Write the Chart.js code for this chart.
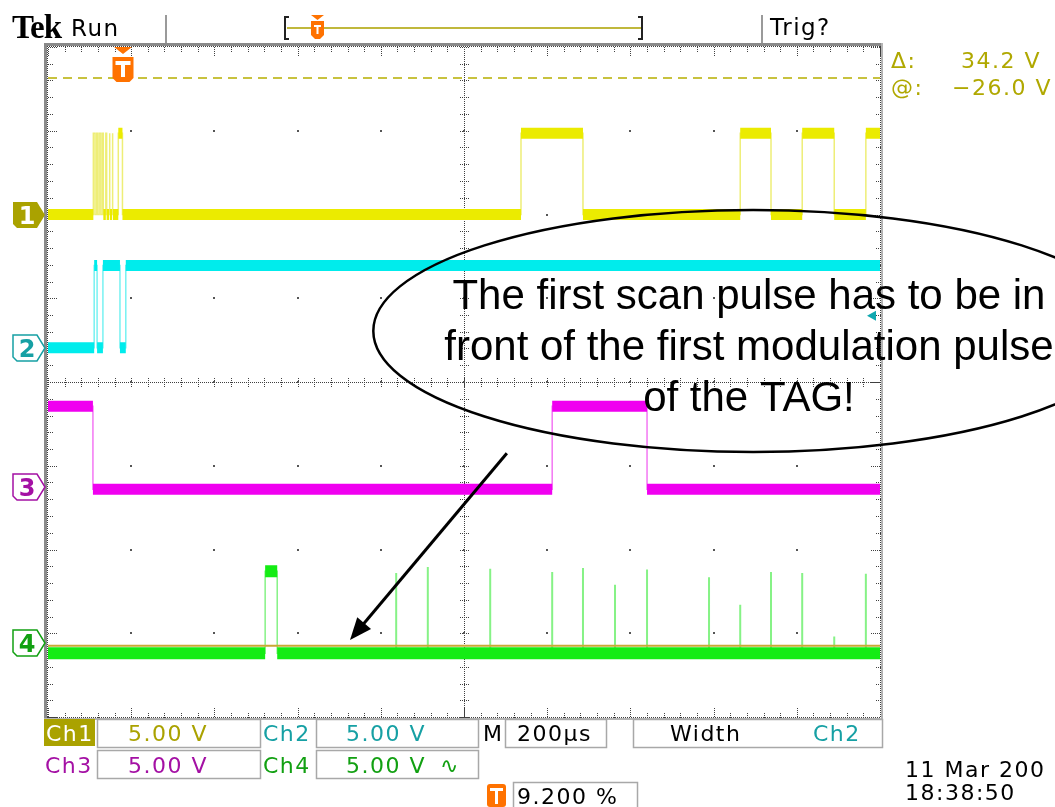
<!DOCTYPE html>
<html>
<head>
<meta charset="utf-8">
<title>Tek scope capture</title>
<script src="https://cdn.jsdelivr.net/npm/chart.js@4.4.1/dist/chart.umd.min.js"></script>
<style>
  html, body { margin: 0; padding: 0; background: #ffffff; }
  canvas { display: block; }
</style>
</head>
<body>
<canvas id="scope" width="1055" height="807"></canvas>
<script>
// x: microseconds across the screen (200 us/div, 10 div)
// y: screen divisions counted up from the bottom graticule line (8 div)
const sweepEnd = 2000;

// each trace: start state (0 low / 1 high), toggle times, [low, high] levels
const ch1Levels = [6.0, 6.97];
const ch1Start = 0;
const ch1Edges = [109, 113, 117, 119, 123, 127, 131, 133, 139, 141, 147, 149, 154, 156, 169, 179, 1137, 1286, 1664, 1738, 1813, 1890, 1966];

const ch2Levels = [4.41, 5.39];
const ch2Start = 0;
const ch2Edges = [111, 118, 132, 173, 187];

const ch3Levels = [2.72, 3.71];
const ch3Start = 1;
const ch3Edges = [108, 1212, 1440];

const ch4Levels = [0.76, 1.74];
const ch4Start = 0;
const ch4Edges = [522, 551];
const ch4SpikeTimes = [837, 913, 1063, 1212, 1286, 1363, 1440, 1589, 1664, 1738, 1813, 1890, 1966];
const ch4SpikeLevels = [1.72, 1.79, 1.77, 1.73, 1.78, 1.58, 1.76, 1.67, 1.34, 1.73, 1.72, 0.96, 1.71];

// ground markers, cursors, trigger
const groundLevels = [6.0, 4.40, 2.75, 0.88];
const cursorLevels = [7.63, 0.85];
const trigTime = 180;
const trigLevel = 4.79;

// readouts
const chLabels = ['Ch1', 'Ch2', 'Ch3', 'Ch4'];
const chVolts = ['5.00 V', '5.00 V', '5.00 V', '5.00 V'];
const cursorText = ['34.2 V', '\u221226.0 V'];
const timebase = '200\u00b5s';
const trigPos = '9.200 %';
const stamp = ['11 Mar 200', '18:38:50'];
const callout = ['The first scan pulse has to be in', 'front of the first modulation pulse', 'of the TAG!'];

const colors = {
  ch1: '#ebeb00', ch1Thin: '#eeee77',
  ch2: '#00ecec', ch2Thin: '#77f2f2',
  ch3: '#f000f0', ch3Thin: '#f377f3',
  ch4: '#14ec14', ch4Thin: '#86f286',
  ch1Text: '#aaa200', ch2Text: '#16a0a4', ch3Text: '#a410a4', ch4Text: '#12a012',
  orange: '#ff7200'
};

function stepTrace(start, edges, lv) {
  let s = start;
  const pts = [{x: 0, y: lv[s]}];
  edges.forEach(t => {
    pts.push({x: t, y: lv[s]});
    s = 1 - s;
    pts.push({x: t, y: lv[s]});
  });
  pts.push({x: sweepEnd, y: lv[s]});
  return pts;
}

// the fuzzy noise band on each settled level (skipped for very short glitches)
function levelBands(start, edges, lv) {
  let s = start, t0 = 0;
  const pts = [];
  edges.concat([sweepEnd]).forEach(t => {
    if (t - t0 > 4) pts.push({x: t0, y: lv[s]}, {x: t, y: lv[s]}, {x: t, y: null});
    s = 1 - s;
    t0 = t;
  });
  return pts;
}

function spikeLines(times, levels, base) {
  const pts = [];
  times.forEach((t, i) => pts.push({x: t, y: base}, {x: t, y: levels[i]}, {x: t, y: null}));
  return pts;
}

const flat = v => [{x: 0, y: v}, {x: sweepEnd, y: v}];

const common = {pointRadius: 0, tension: 0, fill: false, clip: 0, spanGaps: false};

const datasets = [
  {...common, label: 'cursor @', data: flat(cursorLevels[1]), borderColor: '#c9a934', borderWidth: 2, order: 0},
  {...common, label: 'cursor', data: flat(cursorLevels[0]), borderColor: '#c8c23e', borderWidth: 2, borderDash: [9, 6], order: 1},
  {...common, label: 'Ch1', data: levelBands(ch1Start, ch1Edges, ch1Levels), borderColor: colors.ch1, borderWidth: 11, order: 2},
  {...common, label: 'Ch2', data: levelBands(ch2Start, ch2Edges, ch2Levels), borderColor: colors.ch2, borderWidth: 11, order: 3},
  {...common, label: 'Ch3', data: levelBands(ch3Start, ch3Edges, ch3Levels), borderColor: colors.ch3, borderWidth: 11, order: 4},
  {...common, label: 'Ch4', data: levelBands(ch4Start, ch4Edges, ch4Levels), borderColor: colors.ch4, borderWidth: 12, order: 5},
  {...common, label: 'Ch1 edges', data: stepTrace(ch1Start, ch1Edges, ch1Levels), borderColor: colors.ch1Thin, borderWidth: 1.5, order: 6},
  {...common, label: 'Ch2 edges', data: stepTrace(ch2Start, ch2Edges, ch2Levels), borderColor: colors.ch2Thin, borderWidth: 1.5, order: 7},
  {...common, label: 'Ch3 edges', data: stepTrace(ch3Start, ch3Edges, ch3Levels), borderColor: colors.ch3Thin, borderWidth: 1.5, order: 8},
  {...common, label: 'Ch4 edges', data: stepTrace(ch4Start, ch4Edges, ch4Levels), borderColor: colors.ch4Thin, borderWidth: 1.5, order: 9},
  {...common, label: 'Ch4 spikes', data: spikeLines(ch4SpikeTimes, ch4SpikeLevels, ch4Levels[0]), borderColor: colors.ch4Thin, borderWidth: 2, order: 9}
];

function dotsV(ctx, px, y0, y1) { for (let p = y0; p <= y1; p += 2) ctx.fillRect(px, p, 1, 1); }
function dotsH(ctx, py, x0, x1) { for (let p = x0; p <= x1; p += 2) ctx.fillRect(p, py, 1, 1); }

const graticule = {
  id: 'graticule',
  beforeDatasetsDraw(chart) {
    const {ctx, chartArea: a, scales: {x, y}} = chart;
    const L = Math.round(a.left), R = Math.round(a.right), T = Math.round(a.top), B = Math.round(a.bottom);
    ctx.save();
    // frame
    ctx.fillStyle = '#8a8a8a';
    ctx.fillRect(L - 4, T - 4, R - L + 7, 3);
    ctx.fillRect(L - 4, T - 4, 3, B - T + 7);
    ctx.fillStyle = '#b4b4b4';
    ctx.fillRect(R + 1, T - 4, 2, B - T + 6);
    ctx.fillRect(L - 4, B + 1, R - L + 7, 2);
    ctx.fillStyle = '#404040';
    dotsH(ctx, T - 1, L - 1, R);
    dotsH(ctx, B, L - 1, R);
    dotsV(ctx, L - 1, T - 1, B);
    dotsV(ctx, R, T - 1, B);

    const cx = Math.round(x.getPixelForValue(sweepEnd / 2));
    const cy = Math.round(y.getPixelForValue(4));
    // center cross
    dotsV(ctx, cx, T, B);
    dotsH(ctx, cy, L, R);
    // ticks every fifth of a division
    for (let k = 0; k <= 50; k++) {
      const px = Math.round(x.getPixelForValue(k * sweepEnd / 50));
      const len = k % 5 === 0 ? 9 : 4;
      dotsV(ctx, px, T, T + len);
      dotsV(ctx, px, B - len, B);
      dotsV(ctx, px, cy - 4, cy + 4);
    }
    for (let k = 0; k <= 40; k++) {
      const py = Math.round(y.getPixelForValue(k * 0.2));
      const len = k % 5 === 0 ? 9 : 4;
      dotsH(ctx, py, L, L + len);
      dotsH(ctx, py, R - len, R);
      dotsH(ctx, py, cx - 4, cx + 4);
    }
    // dots on every division crossing
    ctx.fillStyle = '#555';
    for (let i = 1; i < 10; i++) {
      for (let j = 1; j < 8; j++) {
        ctx.fillRect(Math.round(x.getPixelForValue(i * 200)) - 1, Math.round(y.getPixelForValue(j)) - 1, 2, 2);
      }
    }
    ctx.restore();
  }
};

function tMarker(ctx, cx, top, w, h) {
  ctx.fillStyle = colors.orange;
  ctx.beginPath();
  ctx.moveTo(cx - w / 2, top);
  ctx.lineTo(cx + w / 2, top);
  ctx.lineTo(cx + w / 2, top + h - 4);
  ctx.lineTo(cx + w / 2 - 4, top + h);
  ctx.lineTo(cx - w / 2 + 4, top + h);
  ctx.lineTo(cx - w / 2, top + h - 4);
  ctx.closePath();
  ctx.fill();
  ctx.fillStyle = '#fff';
  const bar = Math.max(2, Math.round(w * 0.18));
  ctx.fillRect(cx - w / 2 + 3, top + 4, w - 6, bar);
  ctx.fillRect(cx - bar / 2, top + 4, bar, h - 9);
}

function groundMarker(ctx, n, cy, color, filled) {
  ctx.beginPath();
  ctx.moveTo(13, cy - 13);
  ctx.lineTo(37, cy - 13);
  ctx.lineTo(45, cy);
  ctx.lineTo(37, cy + 13);
  ctx.lineTo(17, cy + 13);
  ctx.lineTo(13, cy + 9);
  ctx.closePath();
  if (filled) {
    ctx.fillStyle = color;
    ctx.fill();
  } else {
    ctx.fillStyle = '#fff';
    ctx.fill();
    ctx.strokeStyle = color;
    ctx.lineWidth = 1.5;
    ctx.stroke();
  }
  ctx.fillStyle = filled ? '#fff' : color;
  ctx.font = 'bold 24px "DejaVu Sans"';
  ctx.textAlign = 'center';
  ctx.fillText(String(n), 27, cy + 9);
  ctx.textAlign = 'left';
}

const overlays = {
  id: 'overlays',
  afterDatasetsDraw(chart) {
    const {ctx, chartArea: a, scales: {x, y}} = chart;
    ctx.save();
    // trigger position marker
    const tx = Math.round(x.getPixelForValue(trigTime));
    ctx.fillStyle = colors.orange;
    ctx.beginPath();
    ctx.moveTo(tx - 9, a.top);
    ctx.lineTo(tx + 9, a.top);
    ctx.lineTo(tx, a.top + 7);
    ctx.closePath();
    ctx.fill();
    tMarker(ctx, tx, a.top + 10, 21, 25);
    // trigger level arrow on right edge
    const ty = y.getPixelForValue(trigLevel);
    ctx.fillStyle = '#10a8b0';
    ctx.beginPath();
    ctx.moveTo(a.right - 13, ty);
    ctx.lineTo(a.right - 4, ty - 5);
    ctx.lineTo(a.right - 4, ty + 5);
    ctx.closePath();
    ctx.fill();
    // ground markers
    const gc = [colors.ch1Text, colors.ch2Text, colors.ch3Text, colors.ch4Text];
    groundLevels.forEach((g, i) => groundMarker(ctx, i + 1, Math.round(y.getPixelForValue(g)), gc[i], i === 0));
    ctx.restore();
  }
};

const fnt = '22px "DejaVu Sans"';
function txt(ctx, s, px, py, color, font) {
  ctx.font = font || fnt;
  ctx.fillStyle = color;
  ctx.fillText(s, px, py);
}
function box(ctx, x0, y0, x1, y1) {
  ctx.strokeStyle = '#a8a8a8';
  ctx.lineWidth = 1.5;
  ctx.strokeRect(x0 + 0.5, y0 + 0.5, x1 - x0, y1 - y0);
}

const statusBar = {
  id: 'statusBar',
  afterDraw(chart) {
    const {ctx, scales: {x, y}} = chart;
    ctx.save();
    ctx.textBaseline = 'alphabetic';

    // callout ellipse, text and arrow
    const ex = x.getPixelForValue(1695), ey = y.getPixelForValue(4.61);
    const rx = x.getPixelForValue(1695 + 913) - ex, ry = ey - y.getPixelForValue(4.61 + 1.445);
    ctx.strokeStyle = '#000';
    ctx.lineWidth = 2.5;
    ctx.beginPath();
    ctx.ellipse(ex, ey, rx, ry, 0, 0, Math.PI * 2);
    ctx.stroke();
    ctx.letterSpacing = '0px';
    ctx.textAlign = 'center';
    const tcx = x.getPixelForValue(1685);
    [4.87, 4.26, 3.65].forEach((v, i) => txt(ctx, callout[i], tcx, y.getPixelForValue(v), '#000', '42px "Liberation Sans"'));
    ctx.textAlign = 'left';
    const ax0 = x.getPixelForValue(1103), ay0 = y.getPixelForValue(3.15);
    const ax1 = x.getPixelForValue(726), ay1 = y.getPixelForValue(0.92);
    const ang = Math.atan2(ay1 - ay0, ax1 - ax0);
    ctx.lineWidth = 3;
    ctx.beginPath();
    ctx.moveTo(ax0, ay0);
    ctx.lineTo(ax1 - 16 * Math.cos(ang), ay1 - 16 * Math.sin(ang));
    ctx.stroke();
    ctx.fillStyle = '#000';
    ctx.beginPath();
    ctx.moveTo(ax1, ay1);
    ctx.lineTo(ax1 - 22 * Math.cos(ang) + 9 * Math.sin(ang), ay1 - 22 * Math.sin(ang) - 9 * Math.cos(ang));
    ctx.lineTo(ax1 - 22 * Math.cos(ang) - 9 * Math.sin(ang), ay1 - 22 * Math.sin(ang) + 9 * Math.cos(ang));
    ctx.closePath();
    ctx.fill();

    // top line
    ctx.letterSpacing = '-1px';
    txt(ctx, 'Tek', 12, 38, '#000', 'bold 33px "Liberation Serif"');
    ctx.letterSpacing = '1.5px';
    txt(ctx, 'Run', 71, 36, '#000', '23px "DejaVu Sans"');
    txt(ctx, 'Trig?', 770, 35, '#000', '23px "DejaVu Sans"');
    ctx.fillStyle = '#9a9a9a';
    ctx.fillRect(165, 15, 2, 28);
    ctx.fillRect(761, 15, 2, 28);
    // record bracket
    ctx.fillStyle = '#c0b83c';
    ctx.fillRect(287, 27, 354, 2);
    ctx.fillStyle = '#222';
    ctx.fillRect(284, 16, 2, 24);
    ctx.fillRect(284, 16, 5, 2);
    ctx.fillRect(284, 38, 5, 2);
    ctx.fillRect(641, 16, 2, 24);
    ctx.fillRect(638, 16, 5, 2);
    ctx.fillRect(638, 38, 5, 2);
    ctx.fillStyle = colors.orange;
    ctx.beginPath();
    ctx.moveTo(311, 15);
    ctx.lineTo(324, 15);
    ctx.lineTo(317.5, 20);
    ctx.closePath();
    ctx.fill();
    tMarker(ctx, 317.5, 21, 13, 18);

    // cursor readouts
    txt(ctx, '\u0394:', 891, 68, '#b0a800');
    txt(ctx, cursorText[0], 961, 68, '#b0a800');
    txt(ctx, '@:', 891, 95, '#b0a800');
    txt(ctx, cursorText[1], 952, 95, '#b0a800');

    // channel readouts
    ctx.fillStyle = '#aaa200';
    ctx.fillRect(44, 719, 51, 27);
    txt(ctx, chLabels[0], 46, 741, '#fff');
    box(ctx, 97, 719, 260, 747);
    txt(ctx, chVolts[0], 128, 741, colors.ch1Text);
    txt(ctx, chLabels[1], 263, 741, colors.ch2Text);
    box(ctx, 316, 719, 478, 747);
    txt(ctx, chVolts[1], 346, 741, colors.ch2Text);
    txt(ctx, 'M', 483, 741, '#000');
    box(ctx, 505, 719, 606, 747);
    txt(ctx, timebase, 517, 741, '#000');
    box(ctx, 633, 719, 882, 747);
    txt(ctx, 'Width', 670, 741, '#000');
    txt(ctx, 'Ch2', 813, 741, colors.ch2Text);

    txt(ctx, chLabels[2], 45, 773, colors.ch3Text);
    box(ctx, 97, 750, 260, 778);
    txt(ctx, chVolts[2], 128, 773, colors.ch3Text);
    txt(ctx, chLabels[3], 263, 773, colors.ch4Text);
    box(ctx, 316, 750, 478, 778);
    txt(ctx, chVolts[3], 346, 773, colors.ch4Text);
    txt(ctx, '\u223f', 440, 773, colors.ch4Text);

    ctx.fillStyle = colors.orange;
    ctx.beginPath();
    ctx.roundRect(487, 784, 19, 23, 3);
    ctx.fill();
    ctx.fillStyle = '#fff';
    ctx.fillRect(490, 788, 13, 3);
    ctx.fillRect(495, 788, 3, 16);
    box(ctx, 513, 782, 637, 808);
    txt(ctx, trigPos, 517, 804, '#000');

    txt(ctx, stamp[0], 905, 777, '#000');
    txt(ctx, stamp[1], 905, 800, '#000');
    ctx.restore();
  }
};

new Chart(document.getElementById('scope'), {
  type: 'line',
  data: {datasets: datasets},
  options: {
    responsive: false,
    animation: false,
    devicePixelRatio: 1,
    layout: {padding: {left: 48, top: 47, right: 175, bottom: 90}},
    plugins: {legend: {display: false}, tooltip: {enabled: false}, title: {display: false}},
    scales: {
      x: {type: 'linear', min: 0, max: sweepEnd, display: false},
      y: {type: 'linear', min: 0, max: 8, display: false}
    }
  },
  plugins: [graticule, overlays, statusBar]
});
</script>
</body>
</html>
